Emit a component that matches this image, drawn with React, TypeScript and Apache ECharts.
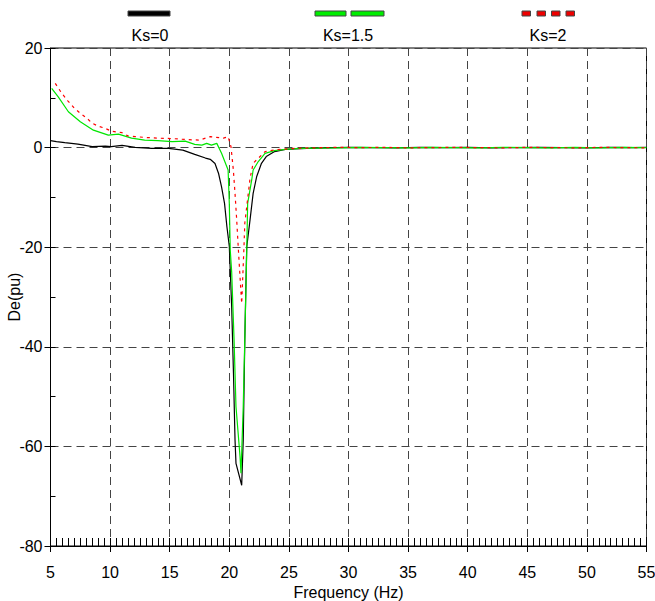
import React, { useEffect, useRef } from "react";
import * as echarts from "echarts";

// Frequency (Hz) / De (pu) pairs
const ks0: [number, number][] = [
  [5.0, 1.4], [5.5, 1.2], [6.2, 1.0], [7.3, 0.7], [8.5, 0.2], [9.6, 0.3], [10.1, 0.2], [11.0, 0.45],
  [12.1, 0.05], [13.5, -0.15], [14.9, -0.15], [16.1, -0.5], [17.1, -1.35], [18.0, -2.1], [18.4, -2.35],
  [18.8, -3.2], [19.1, -5.2], [19.35, -7.9], [19.6, -11.2], [19.8, -15.9], [20.0, -19.8], [20.2, -32],
  [20.35, -45.3], [20.48, -58.7], [20.56, -63.4], [21.04, -67.8], [21.17, -58.7], [21.3, -38.6],
  [21.46, -20], [21.74, -14.5], [22.0, -9.2], [22.3, -5.8], [22.7, -3.15], [23.1, -1.8], [23.8, -0.8],
  [24.7, -0.35], [25.5, -0.25], [26.5, -0.15], [28, -0.05], [30, 0.05], [32, 0], [34, -0.05], [36, 0.05],
  [38, 0], [40, 0.05], [42, -0.05], [44, 0], [46, 0.05], [48, 0], [50, -0.05], [52, 0.05], [54, 0], [55, 0.05],
];
const ks15: [number, number][] = [
  [5.1, 11.9], [5.65, 10.2], [6.5, 7.2], [7.5, 5.2], [8.6, 3.5], [9.85, 2.5], [10.7, 2.7], [11.8, 1.9],
  [12.9, 1.5], [14.0, 1.4], [15.2, 1.2], [16.3, 1.3], [17.1, 0.65], [17.7, 0.5], [18.1, 0.85], [18.5, 0.5],
  [18.95, 0.85], [19.35, -1.15], [19.9, -4.5], [20.0, -11.2], [20.08, -20.6], [20.2, -25], [20.4, -38.6],
  [20.56, -52], [20.9, -62], [20.98, -65.4], [21.17, -52], [21.3, -38.6], [21.46, -21], [21.54, -11.2],
  [21.88, -6.5], [22.0, -4.5], [22.43, -2.8], [23.0, -1.15], [23.8, -0.6], [24.7, -0.35], [25.5, -0.2],
  [27, -0.1], [29, -0.05], [31, 0.05], [33, 0], [35, -0.05], [37, 0.05], [39, 0], [41, -0.05], [43, 0.05],
  [45, 0], [47, -0.05], [49, 0.05], [51, -0.05], [53, 0.05], [55, 0],
];
const ks2: [number, number][] = [
  [5.4, 12.9], [5.95, 10.9], [6.45, 9.4], [7.0, 7.9], [7.5, 6.9], [8.05, 5.9], [8.5, 4.9], [9.0, 4.3],
  [9.55, 3.9], [10.1, 3.3], [11.0, 3.0], [11.5, 2.35], [12.1, 2.2], [13.2, 2.0], [14.0, 1.9], [15.3, 1.8],
  [16.5, 1.6], [17.5, 1.5], [18.4, 2.2], [19.5, 1.9], [19.9, 2.2], [20.14, 0.2], [20.34, -4.5],
  [20.48, -9.2], [20.62, -14.5], [20.75, -20], [20.9, -26], [21.04, -31.3], [21.23, -20], [21.3, -15.2],
  [21.46, -11.9], [21.74, -6.2], [22.0, -3.15], [23.0, -0.8], [23.7, -0.5], [24.4, -0.35], [25.5, -0.15],
  [27, -0.05], [29, 0.05], [31, 0], [33, 0.05], [35, -0.05], [37, 0], [39, 0.05], [41, 0], [43, -0.05],
  [45, 0.05], [47, 0], [49, -0.05], [51, 0.05], [53, 0], [55, -0.05],
];
const legendLabels = ["Ks=0", "Ks=1.5", "Ks=2"];
const xName = "Frequency (Hz)";
const yName = "De(pu)";

const FONT = "'Liberation Sans', Arial, Helvetica, sans-serif";
const GREEN = "#00e600";
const RED = "#ff0000";

export default function App() {
  const ref = useRef<HTMLDivElement>(null);
  useEffect(() => {
    const chart = echarts.init(ref.current!, null, { renderer: "svg" });
    const txt = (s: string, x: number, y: number) => ({
      type: "text",
      x,
      y,
      style: { text: s, fill: "#000", font: `16px ${FONT}`, align: "center", verticalAlign: "middle", textAlign: "center", textVerticalAlign: "middle" },
    });
    const box = (x: number, w: number, fill: string) => ({
      type: "rect",
      shape: { x, y: 11, width: w, height: 5 },
      style: { fill, stroke: "#444", lineWidth: 1 },
    });
    chart.setOption({
      animation: false,
      backgroundColor: "#fff",
      grid: {
        left: 50.5, top: 48, width: 596, height: 498, show: true, borderColor: "#000", borderWidth: 1,
        backgroundColor: "transparent", containLabel: false, outerBoundsMode: "none",
      },
      xAxis: [
        {
          type: "value", min: 5, max: 55, interval: 5,
          name: xName, nameLocation: "middle", nameGap: 38,
          nameTextStyle: { fontFamily: FONT, fontSize: 16, color: "#000" },
          axisLine: { show: true, onZero: false, lineStyle: { color: "#000", width: 1 } },
          axisTick: { show: true, length: 6, lineStyle: { color: "#000" } },
          axisLabel: { fontFamily: FONT, fontSize: 16, color: "#000", margin: 18, hideOverlap: false },
          splitLine: { show: true, lineStyle: { color: "#444", type: [8, 5], width: 1 } },
        },
        {
          type: "value", min: 5, max: 55, interval: 0.5, position: "bottom",
          axisLine: { show: false, onZero: false }, axisLabel: { show: false }, splitLine: { show: false },
          axisTick: { show: true, inside: true, length: 8, lineStyle: { color: "#000" } },
        },
      ],
      yAxis: [
        {
          type: "value", min: -80, max: 20, interval: 20,
          name: yName, nameLocation: "middle", nameGap: 28, nameMoveOverlap: false,
          nameTextStyle: { fontFamily: FONT, fontSize: 16, color: "#000" },
          axisLine: { show: true, onZero: false, lineStyle: { color: "#000", width: 1 } },
          axisTick: { show: true, length: 6, lineStyle: { color: "#000" } },
          axisLabel: { fontFamily: FONT, fontSize: 16, color: "#000", margin: 8, hideOverlap: false },
          splitLine: { show: true, lineStyle: { color: "#444", type: [8, 5], width: 1 } },
        },
        {
          type: "value", min: -80, max: 20, interval: 10, position: "left",
          axisLine: { show: false, onZero: false }, axisLabel: { show: false }, splitLine: { show: false },
          axisTick: { show: true, inside: true, length: 5, lineStyle: { color: "#000" } },
        },
      ],
      graphic: [
        box(128, 42, "#000"),
        box(315, 31, "#00ee00"),
        box(351, 33, "#00ee00"),
        box(522, 8.5, "#ee0000"),
        box(537, 8.5, "#ee0000"),
        box(551.5, 8.5, "#ee0000"),
        box(566, 8.5, "#ee0000"),
        txt(legendLabels[0], 150, 35),
        txt(legendLabels[1], 348, 35),
        txt(legendLabels[2], 548, 35),
      ],
      series: [
        {
          name: legendLabels[0], type: "line", data: ks0, xAxisIndex: 0, yAxisIndex: 0,
          showSymbol: false, symbol: "none", lineStyle: { color: "#000", width: 1.2 }, z: 3,
        },
        {
          name: legendLabels[1], type: "line", data: ks15, xAxisIndex: 0, yAxisIndex: 0,
          showSymbol: false, symbol: "none", lineStyle: { color: GREEN, width: 1.2 }, z: 4,
        },
        {
          name: legendLabels[2], type: "line", data: ks2, xAxisIndex: 0, yAxisIndex: 0,
          showSymbol: false, symbol: "none", lineStyle: { color: RED, width: 1.2, type: [3, 4] }, z: 5,
        },
      ],
    });
    return () => chart.dispose();
  }, []);
  return <div ref={ref} style={{ position: "fixed", left: 0, top: 0, width: 655, height: 601, background: "#fff" }} />;
}
